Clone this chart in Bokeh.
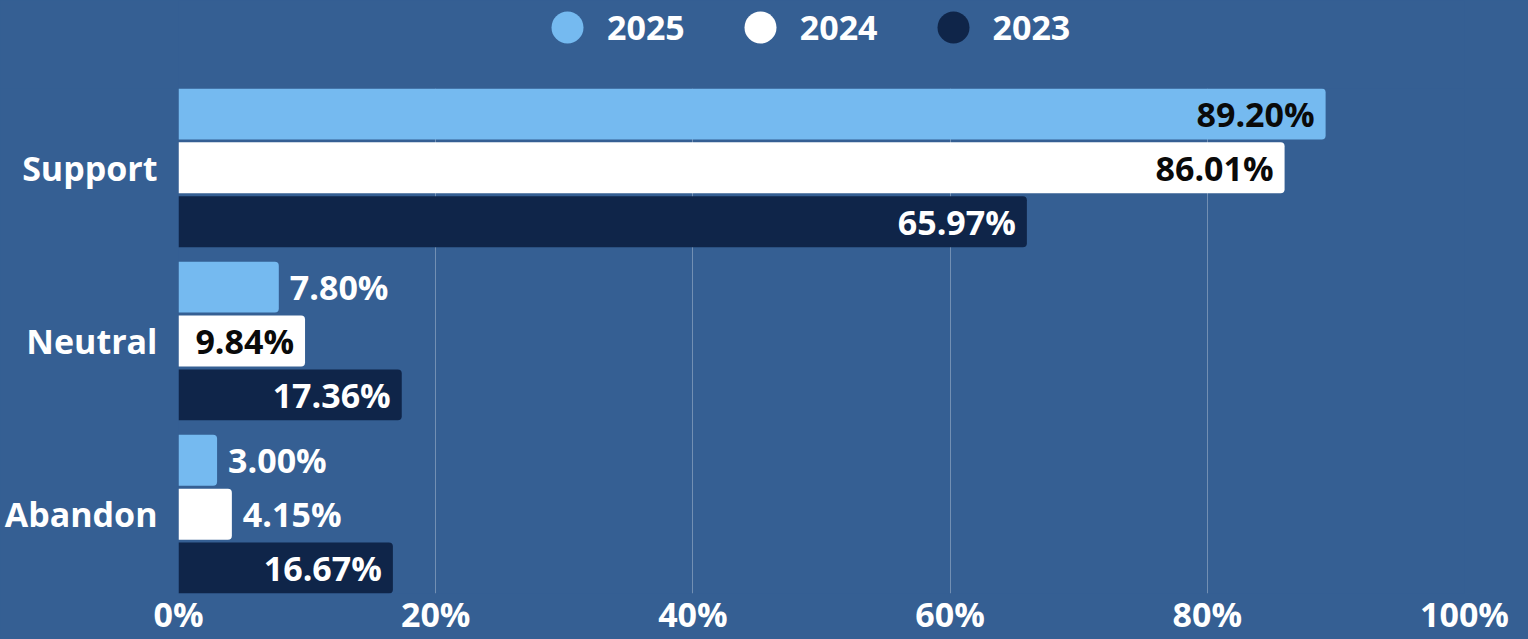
from bokeh.plotting import figure
from bokeh.layouts import column
from bokeh.models import (ColumnDataSource, Range1d, FixedTicker, PrintfTickFormatter,
                          Legend, LegendItem)
from bokeh.embed import file_html
from bokeh.resources import INLINE
from bokeh.core.properties import value

# ---------------- data ----------------
categories = ["Support", "Neutral", "Abandon"]
years = ["2025", "2024", "2023"]
values_2025 = [89.20, 7.80, 3.00]
values_2024 = [86.01, 9.84, 4.15]
values_2023 = [65.97, 17.36, 16.67]
x_ticks = [0, 20, 40, 60, 80, 100]

series = {"2025": values_2025, "2024": values_2024, "2023": values_2023}

# ---------------- style ----------------
FONT = "Open Sans"
FS = "34px"
BG = "#355F93"
W, H = 1528, 639
LEG_H = 88
colors = {"2025": "#75BAF0", "2024": "#FFFFFF", "2023": "#0F2549"}
inside_text = {"2025": "#0A0A0A", "2024": "#0A0A0A", "2023": "#FFFFFF"}
offsets = {"2025": 0.311, "2024": 0.0, "2023": -0.311}
bar_h = 0.294
inside_min = 9.0  # label goes inside the bar when the bar is long enough

n = len(categories)
cat_pos = {c: n - 1 - i for i, c in enumerate(categories)}

# ---------------- legend strip ----------------
# its view window lies away from the data, so the swatch glyphs only show in the legend
lf = figure(width=W, height=LEG_H, output_backend="svg", toolbar_location=None,
            x_range=Range1d(-2, -1), y_range=Range1d(-2, -1),
            x_axis_location=None, y_axis_location=None,
            min_border_left=0, min_border_right=0, min_border_top=0, min_border_bottom=0)
lf.background_fill_color = BG
lf.border_fill_color = BG
lf.outline_line_color = None
lf.grid.visible = False

# ---------------- main chart ----------------
p = figure(width=W, height=H - LEG_H, output_backend="svg", toolbar_location=None,
           x_range=Range1d(0, 100), y_range=Range1d(-0.458, 2.458),
           min_border_left=178, min_border_right=64, min_border_top=0,
           min_border_bottom=40)
p.background_fill_color = BG
p.border_fill_color = BG
p.outline_line_color = None

# x axis
p.xaxis.ticker = FixedTicker(ticks=x_ticks)
p.xaxis.formatter = PrintfTickFormatter(format="%d%%")
p.xaxis.axis_line_color = None
p.xaxis.major_tick_line_color = None
p.xaxis.minor_tick_line_color = None
p.xaxis.major_label_text_font = FONT
p.xaxis.major_label_text_font_size = FS
p.xaxis.major_label_text_font_style = "bold"
p.xaxis.major_label_text_color = "white"
p.xaxis.major_label_standoff = -9

# y axis
p.yaxis.ticker = FixedTicker(ticks=[cat_pos[c] for c in categories])
p.yaxis.major_label_overrides = {cat_pos[c]: c for c in categories}
p.yaxis.axis_line_color = None
p.yaxis.major_tick_line_color = None
p.yaxis.minor_tick_line_color = None
p.yaxis.major_label_text_font = FONT
p.yaxis.major_label_text_font_size = FS
p.yaxis.major_label_text_font_style = "bold"
p.yaxis.major_label_text_color = "white"
p.yaxis.major_label_standoff = 15

p.xgrid.ticker = FixedTicker(ticks=x_ticks)
p.xgrid.grid_line_color = "white"
p.xgrid.grid_line_alpha = 0.3
p.ygrid.grid_line_color = None

legend_items = []
for yr in years:
    vals = series[yr]
    ys = [cat_pos[c] + offsets[yr] for c in categories]
    inside = [v >= inside_min for v in vals]
    src = ColumnDataSource(dict(
        y=ys, v=vals,
        label=[f"{v:.2f}%" for v in vals],
        align=["right" if i else "left" for i in inside],
        xoff=[-11 if i else 11 for i in inside],
        tcol=[inside_text[yr] if i else "#FFFFFF" for i in inside],
    ))
    p.hbar(y="y", left=0, right="v", height=bar_h, source=src,
           fill_color=colors[yr], line_color=None, border_radius=(0, 4, 4, 0))
    p.text(x="v", y="y", text="label", source=src, text_align="align",
           x_offset="xoff", text_color="tcol", text_baseline="middle",
           text_font=value(FONT), text_font_style="bold", text_font_size=FS)
    # legend swatch: circle glyph on the same data (outside the strip's view window)
    r = lf.scatter(x="v", y="y", source=src, marker="circle", size=32,
                   fill_color=colors[yr], line_color=None)
    legend_items.append(LegendItem(label=yr, renderers=[r]))

legend = Legend(items=legend_items, location=(349, 21), orientation="horizontal",
                glyph_width=80, glyph_height=80, label_standoff=0, spacing=35,
                padding=0, margin=0, background_fill_alpha=0, border_line_alpha=0,
                label_text_font=FONT, label_text_font_size=FS,
                label_text_font_style="bold", label_text_color="white")
lf.add_layout(legend)

layout = column(lf, p, spacing=0)
html = file_html(layout, INLINE)
html = html.replace("<head>", "<head><style>html,body{margin:0;padding:0;overflow:hidden;background:#355F93}</style>", 1)
open("out.html", "w").write(html)
